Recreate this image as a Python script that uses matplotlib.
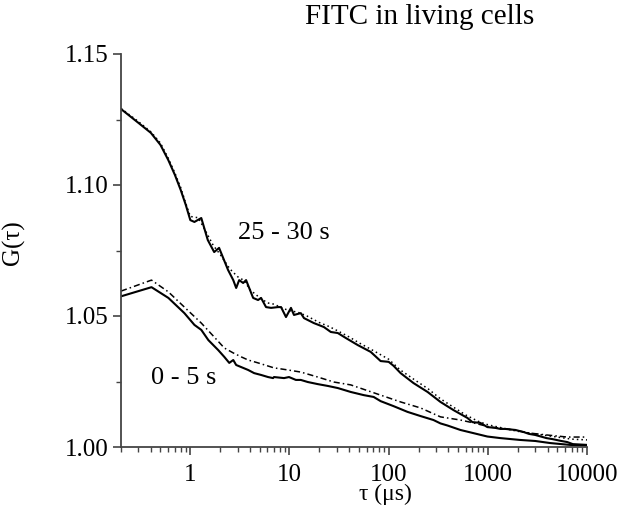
import numpy as np
import matplotlib
matplotlib.use('Agg')
import matplotlib.pyplot as plt
from matplotlib.ticker import MultipleLocator, FixedLocator, NullFormatter, LogLocator

plt.rcParams['font.family'] = ['Liberation Serif', 'DejaVu Serif']

# 25 - 30 s, measured curve
tau_late = [0.2, 0.3, 0.4, 0.5, 0.6, 0.7, 0.8, 0.9, 1.0, 1.1,
            1.29, 1.5, 1.74, 1.95, 2.4, 2.71, 2.9, 3.11, 3.41, 3.65,
            4.3, 4.82, 5.17, 5.8, 6.52, 7.66, 8.22, 9.22, 10.35, 11.1,
            13.0, 14.0, 17.6, 22.2, 26.1, 30.7, 37, 48.8, 65.9, 83,
            100, 112, 132, 178, 247, 333, 450, 622, 698, 841,
            989, 1189, 1336, 1500, 1900, 2300, 2600, 3000, 3900, 4500,
            5500, 6300, 7200, 10000]
g_late = [1.1290, 1.1237, 1.1199, 1.1153, 1.1095, 1.1038, 1.0981, 1.0924, 1.0866, 1.0859,
          1.0874, 1.0790, 1.0744, 1.0760, 1.0676, 1.0637, 1.0607, 1.0637, 1.0626, 1.0637,
          1.0569, 1.0561, 1.0569, 1.0534, 1.0531, 1.0534, 1.0534, 1.0496, 1.0531, 1.0504,
          1.0511, 1.0492, 1.0473, 1.0458, 1.0439, 1.0435, 1.0416, 1.0389, 1.0363, 1.0328,
          1.0325, 1.0310, 1.0282, 1.0244, 1.0210, 1.0172, 1.0141, 1.0111, 1.0095, 1.0092,
          1.0076, 1.0073, 1.0069, 1.0069, 1.0065, 1.0057, 1.0050, 1.0046, 1.0034, 1.0030,
          1.0023, 1.0019, 1.0011, 1.0008]

# 25 - 30 s, dotted curve
tau_late_fit = [0.2, 0.3, 0.4, 0.5, 0.6, 0.7, 0.8, 0.9, 1.0, 1.2,
                1.4, 1.7, 2.0, 2.5, 3.0, 3.5, 4.0, 5.0, 6.0, 7.0,
                8.5, 10, 12, 15, 20, 25, 30, 40, 50, 70,
                100, 130, 180, 250, 330, 450, 600, 800, 1000, 1500,
                2000, 3000, 5000, 7000, 10000]
g_late_fit = [1.1292, 1.1242, 1.1203, 1.1160, 1.1102, 1.1045, 1.0990, 1.0930, 1.0880, 1.0875,
              1.0830, 1.0770, 1.0735, 1.0680, 1.0650, 1.0635, 1.0600, 1.0570, 1.0550, 1.0545,
              1.0530, 1.0520, 1.0515, 1.0500, 1.0475, 1.0460, 1.0445, 1.0420, 1.0398, 1.0368,
              1.0335, 1.0295, 1.0258, 1.0222, 1.0185, 1.0152, 1.0122, 1.0098, 1.0085, 1.0070,
              1.0060, 1.0050, 1.0038, 1.0030, 1.0027]

# 0 - 5 s, solid curve
tau_early = [0.2, 0.406, 0.601, 0.871, 1.10, 1.29, 1.52, 1.91, 2.20, 2.47,
             2.71, 2.90, 3.26, 3.83, 4.40, 5.17, 6.08, 6.83, 6.98, 8.81,
             9.89, 11.6, 13.0, 15.3, 19.3, 24.4, 30.7, 41.5, 56.1, 70.6,
             83, 112, 155, 210, 283, 333, 392, 529, 715, 989,
             1336, 2100, 3000, 4270, 6740, 10000]
g_early = [1.0575, 1.0610, 1.0569, 1.0511, 1.0466, 1.0447, 1.0408, 1.0370, 1.0344, 1.0321,
           1.0332, 1.0313, 1.0305, 1.0294, 1.0282, 1.0275, 1.0267, 1.0263, 1.0267, 1.0263,
           1.0267, 1.0256, 1.0256, 1.0248, 1.0240, 1.0233, 1.0225, 1.0210, 1.0198, 1.0191,
           1.0175, 1.0156, 1.0134, 1.0118, 1.0103, 1.0090, 1.0082, 1.0065, 1.0053, 1.0040,
           1.0034, 1.0027, 1.0023, 1.0015, 1.0008, 1.0006]

# 0 - 5 s, dash-dot curve
tau_early2 = [0.2, 0.406, 0.601, 0.871, 1.29, 1.74, 2.20, 2.71, 3.26, 3.83,
              4.82, 6.98, 9.66, 13.0, 19.3, 28.0, 41.5, 83, 132, 210,
              333, 529, 715, 1060, 1570, 2670, 3900, 6300, 10000]
g_early2 = [1.0595, 1.0637, 1.0592, 1.0534, 1.0473, 1.0420, 1.0378, 1.0359, 1.0344, 1.0332,
            1.0321, 1.0302, 1.0294, 1.0286, 1.0267, 1.0248, 1.0237, 1.0198, 1.0172, 1.0149,
            1.0115, 1.0103, 1.0092, 1.0076, 1.0069, 1.0053, 1.0046, 1.0038, 1.0038]

fig = plt.figure(figsize=(6.22, 5.09), dpi=100)
ax = fig.add_axes([121/622, 62/509, 466/622, 393/509])

ax.plot(tau_late_fit, g_late_fit, color='black', lw=1.1, ls=(0, (1, 2)))
ax.plot(tau_late, g_late, color='black', lw=1.5)
ax.plot(tau_early2, g_early2, color='black', lw=1.1, ls=(0, (4, 2, 1, 2)))
ax.plot(tau_early, g_early, color='black', lw=1.5)

ax.set_xscale('log')
ax.set_xlim(0.2, 10000)
ax.set_ylim(1.0, 1.15)
ax.set_xticks([1, 10, 100, 1000, 10000])
ax.set_xticklabels(['1', '10', '100', '1000', '10000'])
ax.xaxis.set_minor_locator(LogLocator(base=10, subs=np.arange(2, 10)))
ax.xaxis.set_minor_formatter(NullFormatter())
ax.yaxis.set_major_locator(FixedLocator([1.00, 1.05, 1.10, 1.15]))
ax.set_yticklabels(['1.00', '1.05', '1.10', '1.15'])
ax.yaxis.set_minor_locator(MultipleLocator(0.025))

for s in ['top', 'right']:
    ax.spines[s].set_visible(False)
for s in ['left', 'bottom']:
    ax.spines[s].set_color('#444444')
    ax.spines[s].set_linewidth(1.3)

ax.tick_params(which='major', direction='out', length=6, width=1.2, color='#444444',
               labelsize=18, pad=3)
ax.tick_params(which='minor', direction='out', length=3.5, width=1.0, color='#444444')
ax.tick_params(axis='x', which='major', pad=6)

ax.set_xlabel('τ (μs)', fontsize=17)
ax.xaxis.set_label_coords(0.567, -0.093)
ax.set_ylabel('G(τ)', fontsize=18)
ax.yaxis.set_label_coords(-0.205, 0.52)

ax.text(3.04, 1.0817, '25 - 30 s', fontsize=19, va='center', ha='left')
ax.text(0.406, 1.0263, '0 - 5 s', fontsize=19, va='center', ha='left')

fig.text(534/622, 1 - 17/509, 'FITC in living cells', fontsize=21, ha='right', va='center')

fig.savefig('out.png', dpi=100)
